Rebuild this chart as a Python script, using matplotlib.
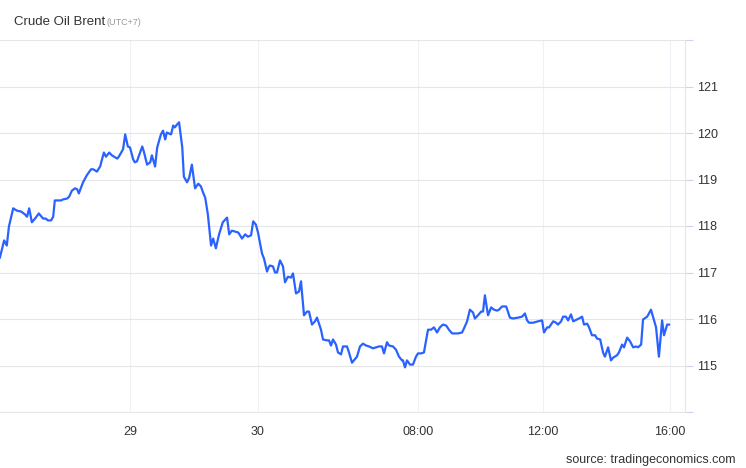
import numpy as np
import matplotlib
matplotlib.use('Agg')
import matplotlib.pyplot as plt

plt.rcParams['font.family'] = ['Liberation Sans', 'DejaVu Sans']

# hours relative to the 29th 00:00 (UTC+7)
hours_28 = [-24.4, -23.6, -23.1, -22.7, -21.9, -21.2, -20.4, -19.7, -19.3, -18.9,
            -18.4, -17.8, -17.1, -16.3, -15.8, -15.4, -14.8, -14.4, -14.1, -13.5,
            -12.9, -12.6, -11.8, -11.4, -10.9, -10.3, -9.9, -9.6, -8.8, -8.1,
            -7.3, -6.9, -6.2, -5.6, -4.9, -4.5, -3.9, -3.4, -2.4, -2.1,
            -1.3, -0.9, -0.4]
price_28 = [117.32, 117.69, 117.58, 117.99, 118.38, 118.33, 118.31, 118.25, 118.20, 118.38,
            118.08, 118.16, 118.27, 118.16, 118.16, 118.12, 118.12, 118.20, 118.55, 118.55,
            118.55, 118.57, 118.59, 118.63, 118.76, 118.81, 118.79, 118.70, 118.94, 119.09,
            119.22, 119.22, 119.17, 119.28, 119.58, 119.49, 119.58, 119.52, 119.45, 119.49,
            119.65, 119.97, 119.71]

hours_29 = [0.0, 0.6, 0.9, 1.3, 2.3, 2.6, 3.2, 3.8, 4.1, 4.7,
            5.1, 5.8, 6.2, 6.6, 6.9, 7.7, 8.1, 8.4, 8.8, 9.2,
            9.8, 10.1, 10.7, 11.1, 11.6, 12.2, 12.8, 13.3, 13.7, 14.1,
            14.6, 15.2, 15.6, 16.1, 16.7, 17.4, 18.2, 18.6, 19.1, 19.7,
            20.3, 21.0, 21.6, 22.1, 22.7, 23.1, 23.6]
price_29 = [119.69, 119.43, 119.37, 119.39, 119.71, 119.60, 119.32, 119.37, 119.52, 119.28,
            119.69, 119.97, 120.05, 119.86, 120.01, 119.97, 120.16, 120.12, 120.18, 120.23,
            119.69, 119.06, 118.94, 119.04, 119.32, 118.81, 118.91, 118.85, 118.72, 118.61,
            118.25, 117.58, 117.73, 117.52, 117.82, 118.08, 118.18, 117.82, 117.90, 117.88,
            117.86, 117.73, 117.82, 117.77, 117.80, 118.10, 118.03]

hours_30 = [24.00, 24.20, 24.30, 24.45, 24.55, 24.60, 24.75, 24.85, 24.95, 25.10,
            25.25, 25.35, 25.50, 25.65, 25.75, 25.90, 26.05, 26.15, 26.30, 26.45,
            26.55, 26.70, 26.85, 26.95, 27.15, 27.25, 27.45, 27.55, 27.65, 27.75,
            27.90, 28.00, 28.15, 28.25, 28.45, 28.55, 28.70, 28.95, 29.10, 29.25,
            29.40, 29.55, 29.75, 29.90, 30.05, 30.20, 30.30, 30.45, 30.55, 30.75,
            30.90, 31.05, 31.20, 31.25, 31.35, 31.45, 31.60, 31.75, 31.90, 32.00,
            32.10, 32.19, 32.32, 32.42, 32.51, 32.61, 32.70, 32.80, 32.90, 32.99,
            33.09, 33.18, 33.28, 33.41, 33.50, 33.57, 33.66, 33.76, 33.82, 33.92,
            34.02, 34.08, 34.14, 34.24, 34.34, 34.43, 34.53, 34.59, 34.69, 34.82,
            34.94, 35.04, 35.20, 35.33, 35.42, 35.49, 35.55, 35.68, 35.84, 35.97,
            36.03, 36.13, 36.19, 36.32, 36.41, 36.47, 36.57, 36.63, 36.72, 36.79,
            36.88, 36.95, 37.07, 37.13, 37.23, 37.29, 37.39, 37.45, 37.54, 37.64,
            37.70, 37.80, 37.89, 37.95, 38.05, 38.14, 38.21, 38.33, 38.39, 38.49,
            38.55, 38.65, 38.74, 38.84, 38.93, 38.99, 39.09, 39.15, 39.28, 39.40,
            39.47, 39.56, 39.65, 39.75, 39.81, 39.91, 39.97]
price_30 = [117.86, 117.41, 117.30, 117.02, 117.13, 117.15, 117.13, 117.00, 117.00, 117.26,
            117.13, 116.79, 116.91, 116.89, 116.98, 116.55, 116.59, 116.81, 116.08, 116.16,
            116.16, 115.88, 115.95, 116.03, 115.77, 115.56, 115.54, 115.54, 115.43, 115.56,
            115.45, 115.28, 115.24, 115.41, 115.41, 115.28, 115.06, 115.19, 115.41, 115.47,
            115.43, 115.41, 115.37, 115.39, 115.41, 115.41, 115.26, 115.50, 115.43, 115.41,
            115.34, 115.19, 115.11, 115.11, 114.96, 115.11, 115.02, 115.02, 115.19, 115.26,
            115.26, 115.28, 115.77, 115.77, 115.82, 115.71, 115.82, 115.88, 115.86, 115.77,
            115.69, 115.69, 115.69, 115.71, 115.84, 115.95, 116.20, 116.14, 116.01, 116.08,
            116.16, 116.16, 116.51, 116.08, 116.25, 116.20, 116.18, 116.20, 116.27, 116.27,
            116.03, 116.01, 116.03, 116.05, 116.12, 115.97, 115.92, 115.92, 115.95, 115.97,
            115.71, 115.82, 115.82, 115.95, 115.92, 115.88, 115.95, 116.05, 116.05, 115.97,
            116.10, 115.95, 115.99, 116.01, 116.05, 115.88, 115.90, 115.82, 115.65, 115.65,
            115.58, 115.56, 115.28, 115.19, 115.39, 115.11, 115.17, 115.22, 115.28, 115.45,
            115.39, 115.60, 115.52, 115.39, 115.41, 115.39, 115.45, 115.99, 116.05, 116.20,
            116.03, 115.82, 115.19, 115.97, 115.65, 115.88, 115.88]

tick_hours = [0, 24, 32, 36, 40]
tick_labels = ['29', '30', '08:00', '12:00', '16:00']

# compressed time axis like the original (hours -> axis position)
axis_hours = [-26, 0, 24, 32, 36, 40]
axis_pos = [-1.0833, 0, 1, 2.25, 3.227, 4.219]

def to_pos(h):
    return np.interp(h, axis_hours, axis_pos)

hours = np.array(hours_28 + hours_29 + hours_30)
price = np.array(price_28 + price_29 + price_30)

fig = plt.figure(figsize=(7.46, 4.68), dpi=100)
ax = fig.add_axes([0, 1 - 412 / 468, 685 / 746, (412 - 40) / 468])

ax.plot(to_pos(hours), price, color='#2962ff', lw=1.6, solid_joinstyle='round')

ax.set_xlim(-1.0156, 4.336)
ax.set_ylim(114, 122)

ax.set_xticks(to_pos(tick_hours))
ax.set_xticklabels(tick_labels)
ax.set_yticks(range(114, 123))
ax.set_yticklabels(['' if v in (114, 122) else str(v) for v in range(114, 123)])

ax.yaxis.tick_right()
ax.tick_params(axis='y', length=6, width=0.8, color='#ccd6eb', pad=3,
               labelsize=9, labelcolor='#333333')
ax.tick_params(axis='x', length=0, pad=10, labelsize=9, labelcolor='#333333')

ax.grid(axis='y', color='#e6e6e6', lw=0.8)
ax.grid(axis='x', color='#eef2f7', lw=0.8)
ax.set_axisbelow(True)

for s in ['left', 'top']:
    ax.spines[s].set_visible(False)
ax.spines['right'].set_color('#e6e6e6')
ax.spines['right'].set_linewidth(0.8)
ax.spines['bottom'].set_color('#e6e6e6')
ax.spines['bottom'].set_linewidth(0.8)

fig.text(14 / 746, 1 - 25 / 468, 'Crude Oil Brent', fontsize=9.5, color='#333333',
         va='baseline', ha='left')
fig.text(106 / 746, 1 - 25 / 468, '(UTC+7)', fontsize=6.5, color='#999999',
         va='baseline', ha='left')
fig.text(736 / 746, 1 - 460 / 468, 'source: tradingeconomics.com', fontsize=9,
         color='#333333', va='center', ha='right')

fig.savefig('out.png', dpi=100)
